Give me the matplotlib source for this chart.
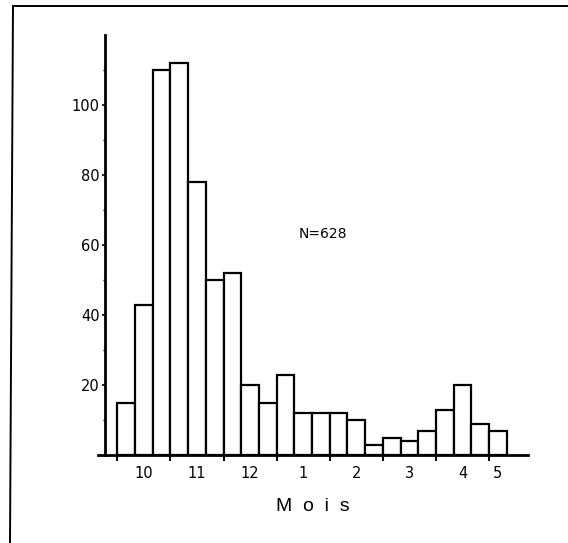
import matplotlib
matplotlib.use("Agg")
import matplotlib.pyplot as plt
from matplotlib.lines import Line2D

# Data: counts per 10-day period (décade), October to May
counts = [15, 43, 110, 112, 78, 50, 52, 20, 15, 23, 12, 12, 12, 10, 3, 5, 4, 7, 13, 20, 9, 7]
month_labels = ["10", "11", "12", "1", "2", "3", "4", "5"]
month_label_pos = [1.5, 4.5, 7.5, 10.5, 13.5, 16.5, 19.5, 21.5]
month_bounds = [0, 3, 6, 9, 12, 15, 18, 21]
y_major = [20, 40, 60, 80, 100]
y_minor = [10, 30, 50, 70, 90, 110]
annotation = "N=628"
xlabel = "M  o  i  s"

plt.rcParams['font.family'] = ['DejaVu Sans']

W, H = 568, 543
fig = plt.figure(figsize=(W / 100, H / 100), dpi=100)
fig.patch.set_facecolor("white")

left_px, right_px = 98.3, 528.3
top_px, bot_px = 35, 455
ax = fig.add_axes([left_px / W, (H - bot_px) / H, (right_px - left_px) / W, (bot_px - top_px) / H])

x = list(range(len(counts)))
ax.bar(x, counts, width=1.0, align="edge", facecolor="white", edgecolor="black", linewidth=1.6)

ax.set_xlim(-1.08, 23.22)
ax.set_ylim(0, 120)

for s in ["top", "right"]:
    ax.spines[s].set_visible(False)
ax.spines["left"].set_position(("data", -0.7))
ax.spines["left"].set_linewidth(2.0)
ax.spines["bottom"].set_linewidth(2.0)

ax.set_xticks(month_bounds)
ax.set_xticklabels([])
ax.set_xticks(month_label_pos, minor=True)
ax.set_xticklabels(month_labels, minor=True)
ax.tick_params(axis="x", which="major", direction="out", length=4.5, width=1.5)
ax.tick_params(axis="x", which="minor", length=0, pad=8, labelsize=10.5)

ax.set_yticks(y_major)
ax.set_yticks(y_minor, minor=True)
ax.tick_params(axis="y", which="major", direction="out", length=2.5, width=1.2, pad=1.5, labelsize=10.5)
ax.tick_params(axis="y", which="minor", direction="out", length=1.5, width=1.0)

ax.set_xlabel(xlabel, fontsize=14, labelpad=12, family=["Liberation Sans"])
ax.text(11.6, 63, annotation, ha="center", va="center", fontsize=10)

# outer frame of the scanned figure
fig.add_artist(Line2D([15 / W, 1.0], [1 - 6 / H, 1 - 6 / H], color="black", linewidth=1.4, transform=fig.transFigure))
fig.add_artist(Line2D([13 / W, 10 / W], [1 - 6 / H, 0.0], color="black", linewidth=1.4, transform=fig.transFigure))

fig.savefig("out.png", dpi=100, facecolor="white")
